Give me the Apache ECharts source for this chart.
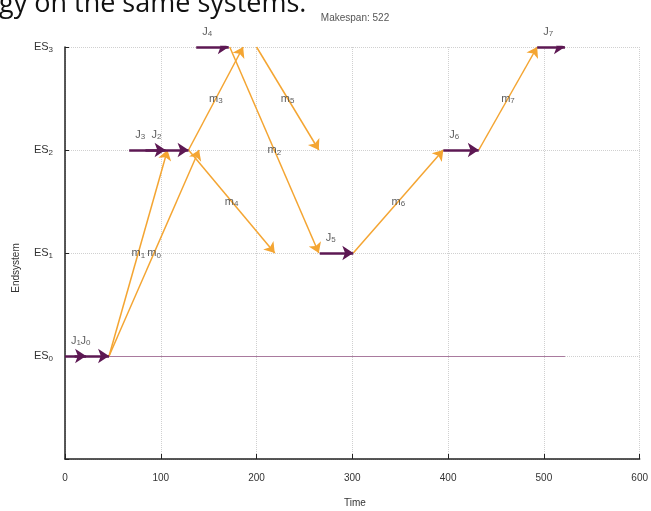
<!DOCTYPE html>
<html>
<head>
<meta charset="utf-8">
<script src="https://cdn.jsdelivr.net/npm/echarts@6/dist/echarts.min.js"></script>
<style>
  html, body { margin: 0; padding: 0; background: #fff; }
  #chart { width: 651px; height: 511px; }
</style>
</head>
<body>
<div id="chart"></div>
<script>
// Schedule: total makespan, end-system levels and time ticks
const makespan = 522;
const esLevels = [0, 1, 2, 3];
const timeTicks = [0, 100, 200, 300, 400, 500, 600];

// Job executions on end systems (index, end system, start, end)
const jobIds   = [1, 0, 3, 2, 4, 5, 6, 7];
const jobES    = [0, 0, 2, 2, 3, 1, 2, 3];
const jobStart = [0, 10, 67, 84, 137, 266, 395, 493];
const jobEnd   = [22, 46, 105, 129, 171, 301, 432, 522];

// Messages between end systems (index, from, to, send time, receive time)
const msgIds  = [1, 0, 3, 4, 2, 5, 6, 7];
const msgFrom = [0, 0, 2, 2, 3, 3, 1, 2];
const msgTo   = [2, 2, 3, 1, 1, 2, 2, 3];
const msgSend = [46, 46, 129, 129, 172, 200, 301, 432];
const msgRecv = [107, 140, 186, 219, 265, 265, 395, 493];

const JOB_COLOR = '#5d1853';
const MSG_COLOR = '#f4a532';
const TEXT = '#333';

const subRich = {
  a: { fontSize: 11, color: TEXT, fontFamily: 'Liberation Sans' },
  s: { fontSize: 8, color: TEXT, fontFamily: 'Liberation Sans', padding: [5, 0, 0, 0] }
};

const jobLines = jobIds.map((id, i) => ({
  coords: [[jobStart[i], jobES[i]], [jobEnd[i], jobES[i]]]
}));
const msgLines = msgIds.map((id, i) => ({
  coords: [[msgSend[i], msgFrom[i]], [msgRecv[i], msgTo[i]]]
}));
const jobLabels = jobIds.map((id, i) => [jobStart[i], jobES[i], id]);
const msgLabels = msgIds.map((id, i) => [
  (msgSend[i] + msgRecv[i]) / 2, (msgFrom[i] + msgTo[i]) / 2, id
]);

const chart = echarts.init(document.getElementById('chart'));
chart.setOption({
  animation: false,
  backgroundColor: '#fff',
  grid: { left: 65, right: 6, top: 47, bottom: 52 },
  graphic: [
    {
      type: 'text', left: -1, top: -9,
      style: { text: 'gy on the same systems.', font: '27px "Open Sans"', fill: '#111' }
    },
    {
      type: 'text', x: 355, y: 18,
      style: { text: 'Makespan: ' + makespan, font: '10px "Liberation Sans"', fill: '#555',
               align: 'center', verticalAlign: 'middle' }
    },
    {
      type: 'text', x: 16, y: 268, rotation: Math.PI / 2,
      style: { text: 'Endsystem', font: '10px "Liberation Sans"', fill: TEXT,
               align: 'center', verticalAlign: 'middle' }
    },
    {
      type: 'text', x: 355, y: 503,
      style: { text: 'Time', font: '10px "Liberation Sans"', fill: TEXT,
               align: 'center', verticalAlign: 'middle' }
    }
  ],
  xAxis: {
    type: 'value',
    min: timeTicks[0], max: timeTicks[timeTicks.length - 1], interval: 100,
    axisLine: { onZero: false, lineStyle: { color: '#222', width: 1.5 } },
    axisTick: { inside: true, length: 5, lineStyle: { color: '#222' } },
    axisLabel: { color: TEXT, fontSize: 10, margin: 14, fontFamily: 'Liberation Sans' },
    splitLine: { show: true, lineStyle: { type: 'dotted', color: '#d0d0d0' } }
  },
  yAxis: {
    type: 'value',
    min: -1, max: esLevels[esLevels.length - 1], interval: 1,
    axisLine: { show: true, onZero: false, lineStyle: { color: '#222', width: 1.5 } },
    axisTick: { show: true, inside: true, length: 4, lineStyle: { color: '#222' } },
    axisLabel: {
      margin: 12,
      formatter: v => (esLevels.indexOf(v) >= 0 ? '{a|ES}{s|' + v + '}' : ''),
      rich: subRich
    },
    splitLine: { show: true, lineStyle: { type: 'dotted', color: '#d0d0d0' } }
  },
  series: [
    {
      type: 'lines', coordinateSystem: 'cartesian2d', z: 1,
      symbol: 'none',
      lineStyle: { color: '#a97a9e', width: 1.2, opacity: 1 },
      data: [{ coords: [[0, esLevels[0]], [makespan, esLevels[0]]] }]
    },
    {
      type: 'lines', coordinateSystem: 'cartesian2d', z: 2,
      symbol: ['none', 'arrow'], symbolSize: 10,
      lineStyle: { color: MSG_COLOR, width: 1.5, opacity: 1 },
      data: msgLines
    },
    {
      type: 'lines', coordinateSystem: 'cartesian2d', z: 3,
      symbol: ['none', 'arrow'], symbolSize: 11,
      lineStyle: { color: JOB_COLOR, width: 2.5, opacity: 1 },
      data: jobLines
    },
    {
      type: 'scatter', z: 4, symbolSize: 0, silent: true,
      data: jobLabels,
      label: {
        show: true, position: 'top', distance: 9, offset: [11, 0],
        formatter: p => '{a|J}{s|' + p.value[2] + '}',
        rich: subRich
      }
    },
    {
      type: 'scatter', z: 4, symbolSize: 0, silent: true,
      data: msgLabels,
      label: {
        show: true, position: 'inside',
        formatter: p => '{a|m}{s|' + p.value[2] + '}',
        rich: subRich
      }
    }
  ]
});
</script>
</body>
</html>
